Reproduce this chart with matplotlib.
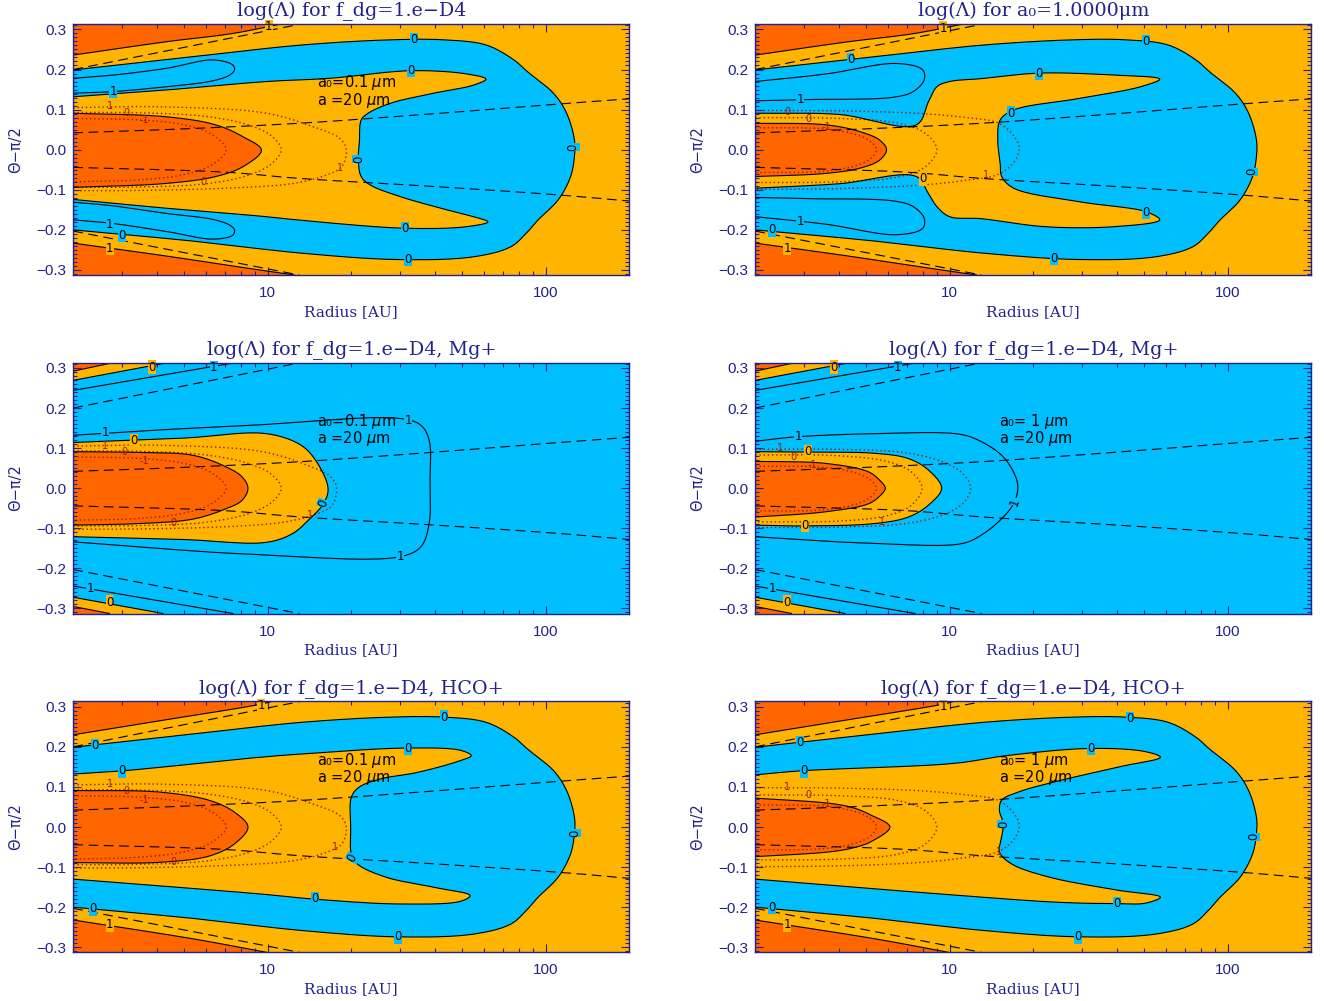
import numpy as np
import matplotlib.pyplot as plt
from matplotlib.ticker import FixedLocator, FixedFormatter, NullFormatter, MultipleLocator

plt.rcParams['lines.scale_dashes'] = False
plt.rcParams['mathtext.fontset'] = 'dejavusans'

NAVY = '#22228c'
DARK = '#ff6600'
AMBER = '#ffb400'
BLUE = '#00bfff'
DOTC = '#9c1a0a'
BG = {'a': AMBER, 'b': BLUE, 'd': DARK}

XMIN, XMAX = 2.0, 200.0
YMIN, YMAX = -0.3125, 0.3135

# ---- dashed reference lines (same in every panel)
DASH_UP_R = [2, 13.2]
DASH_UP_T = [0.200, 0.3135]
DASH_LO_R = [2, 13.0]
DASH_LO_T = [-0.203, -0.3125]
DASH_MU_R = [2, 5, 13, 40, 112, 200]
DASH_MU_T = [0.042, 0.052, 0.066, 0.090, 0.114, 0.127]
DASH_ML_R = [2, 7, 13, 40, 112, 200]
DASH_ML_T = [-0.044, -0.056, -0.0715, -0.092, -0.113, -0.128]

# ---- log(Lambda) = -1 corners, rows 1 and 3
TL1_R = [2, 4.3, 7.5, 11.2]
TL1_T = [0.236, 0.269, 0.290, 0.3135]
BL1_R = [2, 4.3, 7.5, 10.5, 12.5]
BL1_T = [-0.233, -0.265, -0.290, -0.305, -0.3125]
TL3_R = [2, 4.1, 9.4, 10.4]
TL3_T = [0.230, 0.265, 0.306, 0.3135]
BL3_R = [2, 5.4, 9.9]
BL3_T = [-0.232, -0.279, -0.3125]

# ---- outer edge of the log(Lambda) > 0 horseshoe
OUTER_R = [2, 5.4, 13.2, 27.6, 43.1, 61.2, 76.9, 85.9, 107, 119, 127, 127,
           123, 111, 94, 85, 75, 55.2, 29.5, 13.2, 5.4, 2]
OUTER_T = [0.199, 0.232, 0.261, 0.274, 0.274, 0.261, 0.224, 0.195, 0.140, 0.091, 0.024, -0.016,
           -0.067, -0.125, -0.175, -0.209, -0.242, -0.267, -0.274, -0.258, -0.228, -0.200]

# ---- inner edge (amber channel) per panel
INNER1_R = [2, 4.33, 9.9, 16.7, 32.8, 52, 61, 55, 39.6, 27.7, 23, 21.7, 21.4, 21.2, 21.7,
            23.4, 30, 42, 55, 62, 52, 31.5, 13.2, 9.9, 4.33, 2]
INNER1_T = [0.132, 0.149, 0.170, 0.178, 0.197, 0.189, 0.176, 0.161, 0.141, 0.116, 0.091, 0.074,
            0.024, -0.026, -0.067, -0.088, -0.117, -0.146, -0.167, -0.180, -0.192, -0.196,
            -0.176, -0.167, -0.146, -0.124]
INNER2_R = [2, 4, 7.6, 8.4, 9.0, 10, 12.9, 21.1, 39, 57, 48.6, 29.4, 17, 15.2, 14.9, 15.2,
            15.4, 17, 29.4, 51, 57, 39, 22, 13, 10, 9, 8.4, 7.6, 4, 2]
INNER2_T = [0.091, 0.088, 0.062, 0.120, 0.157, 0.170, 0.177, 0.191, 0.186, 0.176, 0.157, 0.128,
            0.099, 0.074, 0.024, -0.034, -0.067, -0.096, -0.130, -0.155, -0.175, -0.192, -0.192,
            -0.172, -0.167, -0.142, -0.110, -0.067, -0.085, -0.096]
INNER5_R = [2, 3.0, 9.4, 13.2, 32, 49.6, 54, 49.6, 34.5, 25.5, 21.3, 20, 19.9, 20, 21, 26.6,
            39.4, 53.5, 49.6, 30, 14.8, 9.4, 2]
INNER5_T = [0.132, 0.140, 0.174, 0.182, 0.197, 0.191, 0.178, 0.166, 0.136, 0.120, 0.099, 0.074,
            0.0, -0.067, -0.092, -0.125, -0.150, -0.171, -0.185, -0.192, -0.180, -0.167, -0.130]
INNER6_R = [2, 2.9, 10.5, 16, 32.2, 50.6, 57.3, 42, 25.3, 17.8, 15.4, 15.1, 15.6, 15.3, 15.1,
            16.6, 22.5, 39.7, 57.3, 50.6, 39.7, 25, 10.5, 2]
INNER6_T = [0.130, 0.140, 0.159, 0.178, 0.196, 0.188, 0.174, 0.152, 0.117, 0.088, 0.067, 0.042,
            0.007, -0.032, -0.062, -0.091, -0.124, -0.157, -0.175, -0.190, -0.191, -0.188,
            -0.170, -0.130]

# ---- log(Lambda) = 1 fingers inside the blue bands (top row)
FING1_R = [2, 2.78, 4.33, 6.37, 7.5, 7.6, 7.3, 6.37, 4.33, 2.78, 2]
FING1U_T = [0.178, 0.186, 0.203, 0.224, 0.211, 0.199, 0.186, 0.172, 0.157, 0.145, 0.141]
FING1L_T = [-0.175, -0.184, -0.204, -0.223, -0.213, -0.200, -0.188, -0.174, -0.159, -0.140, -0.131]
FING2_R = [2, 3.6, 6.46, 8.0, 8.1, 7.4, 6.3, 3.1, 2]
FING2U_T = [0.170, 0.189, 0.215, 0.199, 0.174, 0.145, 0.131, 0.125, 0.122]
FING2L_T = [-0.167, -0.186, -0.212, -0.196, -0.171, -0.142, -0.128, -0.122, -0.119]

# ---- log(Lambda) = -1 midplane cores
ELL1_R = [2, 4.33, 6.5, 8.17, 9.5, 8.17, 6.5, 4.33, 2]
ELL1_T = [0.091, 0.082, 0.062, 0.032, -0.001, -0.042, -0.067, -0.084, -0.094]
ELL2_R = [2, 3.6, 4.76, 5.6, 5.93, 5.6, 4.76, 3.6, 2]
ELL2_T = [0.066, 0.062, 0.045, 0.024, 0.0, -0.026, -0.046, -0.059, -0.067]
ELL3_R = [2, 3.5, 5.4, 7.1, 8.1, 8.5, 8.1, 7.1, 5.4, 3.5, 2]
ELL3_T = [0.091, 0.089, 0.082, 0.053, 0.028, 0.0, -0.030, -0.051, -0.077, -0.088, -0.092]
ELL4_R = [2, 3.56, 5.1, 5.6, 5.87, 5.6, 5.1, 3.56, 2]
ELL4_T = [0.067, 0.062, 0.041, 0.020, 0.0, -0.020, -0.039, -0.059, -0.072]
ELL5_R = [2, 4.1, 6.2, 7.6, 8.5, 7.6, 6.2, 4.1, 2]
ELL5_T = [0.091, 0.087, 0.066, 0.037, 0.0, -0.042, -0.072, -0.088, -0.089]
ELL6_R = [2, 3.7, 4.5, 5.2, 6.1, 5.2, 4.5, 3.7, 2]
ELL6_T = [0.072, 0.059, 0.048, 0.030, 0.0, -0.037, -0.052, -0.062, -0.074]

# ---- middle row (Mg+): log(Lambda) = 0 zone, log(Lambda) = 1 line, corner bands
AMB3_R = [2, 5, 9.9, 13.2, 15.0, 16.5, 15.9, 14.2, 12.3, 9.9, 5, 2]
AMB3_T = [0.114, 0.125, 0.136, 0.107, 0.066, -0.001, -0.038, -0.076, -0.113, -0.135, -0.128, -0.121]
AMB4_R = [2, 3.0, 5.4, 7.1, 8.4, 9.36, 8.4, 7.1, 5.4, 3.0, 2]
AMB4_T = [0.091, 0.090, 0.087, 0.074, 0.045, 0.0, -0.042, -0.072, -0.088, -0.094, -0.092]
ONE3_R = [2, 4, 8.8, 29.9, 35.6, 38.1, 38.4, 38.1, 35.6, 29.9, 8.8, 2]
ONE3_T = [0.132, 0.145, 0.157, 0.174, 0.157, 0.120, 0.020, -0.088, -0.146, -0.171, -0.165, -0.134]
ONE4_R = [2, 2.78, 5.4, 10.5, 12.3, 15.4, 17.2, 17.6, 17, 15.4, 13.0, 11.1, 5.4, 2]
ONE4_T = [0.117, 0.128, 0.136, 0.136, 0.124, 0.082, 0.032, 0.0, -0.038, -0.076, -0.117, -0.138,
          -0.138, -0.121]
TL2D_R, TL2D_T = [2, 2.8], [0.292, 0.3135]
TL2Z_R, TL2Z_T = [2, 4.4], [0.269, 0.3135]
TL2O_R, TL2O_T = [2, 7.7], [0.244, 0.3135]
BL2D_R, BL2D_T = [2, 2.7], [-0.295, -0.3125]
BL2Z_R, BL2Z_T = [2, 4.2], [-0.272, -0.3125]
BL2O_R, BL2O_T = [2, 7.5], [-0.244, -0.3125]

# ---- dotted contours (second quantity), 1 / 0 / -1
DOTL_OUT_R = [2, 4.1, 9.9, 14.6, 18.2, 19.2, 18.5, 16.3, 12.4, 7.1, 3.1, 2]
DOTL_OUT_T = [0.105, 0.107, 0.091, 0.057, 0.028, 0.0, -0.042, -0.063, -0.084, -0.096, -0.102, -0.102]
DOT3_OUT_R = [2, 4.1, 9.6, 13.9, 16.9, 17.7, 17.1, 15.2, 11.6, 7.1, 3.1, 2]
DOTL_MID_R = [2, 3.5, 6, 8.5, 10.3, 11.2, 10.3, 8.5, 6, 3.5, 2]
DOTL_MID_T = [0.093, 0.092, 0.083, 0.062, 0.035, 0.0, -0.036, -0.064, -0.085, -0.093, -0.094]
DOTL_IN_R = [2, 3.5, 5, 6.3, 7.1, 6.3, 5, 3.5, 2]
DOTL_IN_T = [0.078, 0.074, 0.062, 0.038, 0.0, -0.038, -0.062, -0.075, -0.080]
DOTR_OUT_R = [2, 4, 8, 11.5, 14.9, 17, 17.8, 17, 14.9, 11.5, 8, 4, 2]
DOTR_OUT_T = [0.098, 0.097, 0.090, 0.080, 0.067, 0.035, 0.003, -0.032, -0.062, -0.076, -0.088,
              -0.097, -0.099]
DOTR_MID_R = [2, 4, 6.5, 8.2, 9.0, 8.2, 6.5, 4, 2]
DOTR_MID_T = [0.080, 0.078, 0.066, 0.040, 0.0, -0.042, -0.068, -0.080, -0.082]
DOTR_IN_R = [2, 3.5, 4.6, 5.2, 5.46, 5.2, 4.6, 3.5, 2]
DOTR_IN_T = [0.055, 0.052, 0.038, 0.020, 0.0, -0.022, -0.040, -0.054, -0.057]
DOT4_OUT_R = [2, 4, 7, 9.5, 11.2, 11.9, 11.2, 9.5, 7, 4, 2]
DOT4_OUT_T = [0.097, 0.097, 0.088, 0.065, 0.035, 0.0, -0.037, -0.066, -0.088, -0.097, -0.098]
DOT4_MID_R = [2, 4, 6, 7.3, 7.96, 7.3, 6, 4, 2]
DOT4_MID_T = [0.083, 0.081, 0.066, 0.040, 0.0, -0.042, -0.068, -0.082, -0.084]

# ---- solid-contour labels: radius, angle, text, rotation, background
LAB1 = [(33.6, 0.275, '0', 0, 'b'), (32.8, 0.197, '0', 0, 'b'), (21.2, -0.024, '0', 90, 'b'),
        (125.5, 0.007, '0', 90, 'b'), (31.2, -0.196, '0', 0, 'b'), (32, -0.273, '0', 0, 'b'),
        (2.78, 0.145, '1', 0, 'b'), (2.7, -0.186, '1', 0, 'b'), (3.0, -0.213, '0', 0, 'b'),
        (2.7, -0.246, '1', 0, 'a'), (10.1, 0.307, '1', 0, 'a')]
LAB2 = [(4.4, 0.224, '0', 0, 'b'), (2.9, 0.126, '1', 0, 'b'), (2.9, -0.180, '1', 0, 'b'),
        (2.3, -0.200, '0', 0, 'b'), (2.6, -0.246, '1', 0, 'a'), (9.5, 0.303, '1', 0, 'a'),
        (8.0, -0.073, '0', 0, 'a'), (51, 0.269, '0', 0, 'b'), (21, 0.190, '0', 0, 'b'),
        (16.6, 0.091, '0', 0, 'b'), (122, -0.055, '0', 90, 'b'), (51, -0.156, '0', 0, 'b'),
        (23.7, -0.271, '0', 0, 'b')]
LAB3 = [(3.83, 0.302, '0', 0, 'a'), (6.4, 0.300, '1', 0, 'b'), (2.6, 0.138, '1', 0, 'b'),
        (3.3, 0.119, '0', 0, 'a'), (15.9, -0.038, '0', 70, 'b'), (32, 0.168, '1', 0, 'b'),
        (30, -0.171, '1', 0, 'b'), (2.3, -0.250, '1', 0, 'b'), (2.7, -0.284, '0', 0, 'a')]
LAB4 = [(3.83, 0.302, '0', 0, 'a'), (6.5, 0.300, '1', 0, 'b'), (2.86, 0.128, '1', 0, 'b'),
        (3.1, 0.091, '0', 0, 'a'), (3.02, -0.093, '0', 0, 'a'), (17.2, -0.034, '1', 70, 'b'),
        (2.3, -0.250, '1', 0, 'b'), (2.6, -0.284, '0', 0, 'a')]
LAB5 = [(9.5, 0.303, '1', 0, 'a'), (2.4, 0.203, '0', 0, 'b'), (3.0, 0.140, '0', 0, 'b'),
        (14.8, -0.178, '0', 0, 'b'), (2.36, -0.204, '0', 0, 'b'), (2.7, -0.244, '1', 0, 'a'),
        (43, 0.274, '0', 0, 'b'), (32, 0.197, '0', 0, 'b'), (127, -0.016, '0', 90, 'b'),
        (20.2, -0.077, '0', 60, 'b'), (29.5, -0.274, '0', 0, 'b')]
LAB6 = [(9.5, 0.300, '1', 0, 'a'), (2.9, 0.210, '0', 0, 'b'), (3.0, 0.140, '0', 0, 'b'),
        (44.4, 0.271, '0', 0, 'b'), (32.2, 0.196, '0', 0, 'b'), (15.6, 0.007, '0', 90, 'b'),
        (124, -0.024, '0', 90, 'b'), (40, -0.191, '0', 0, 'b'), (29, -0.274, '0', 0, 'b'),
        (2.3, -0.200, '0', 0, 'b'), (2.6, -0.244, '1', 0, 'a')]

# ---- dotted-contour labels: radius, angle, text
RED1 = [(2.7, 0.108, '1'), (3.1, 0.091, '0'), (3.6, 0.073, '-1'), (5.9, -0.080, '0'),
        (18.2, -0.046, '1')]
RED2 = [(2.6, 0.093, '0'), (3.1, 0.077, '0'), (3.6, 0.057, '-1'), (13.5, -0.063, '1')]
RED3 = [(2.6, 0.106, '1'), (3.05, 0.090, '0'), (3.6, 0.068, '-1'), (4.6, -0.088, '0'),
        (14.2, -0.067, '1')]
RED4 = [(2.45, 0.100, '1'), (2.75, 0.079, '0'), (3.2, 0.058, '-1'), (5.7, -0.084, '1')]
RED5 = [(2.7, 0.107, '1'), (3.1, 0.090, '0'), (3.6, 0.068, '-1'), (4.6, -0.088, '0'),
        (17.5, -0.050, '1')]
RED6 = [(2.6, 0.099, '1'), (3.1, 0.081, '0'), (3.6, 0.058, '-1'), (15.1, -0.062, '1')]

TITLES = ['log(Λ) for f_dg=1.e−D4', 'log(Λ) for a₀=1.0000μm',
          'log(Λ) for f_dg=1.e−D4, Mg+', 'log(Λ) for f_dg=1.e−D4, Mg+',
          'log(Λ) for f_dg=1.e−D4, HCO+', 'log(Λ) for f_dg=1.e−D4, HCO+']
NOTES = [('a₀=0.1 $\\mu$m', 'a =20 $\\mu$m'), None,
         ('a₀=0.1 $\\mu$m', 'a =20 $\\mu$m'), ('a₀= 1 $\\mu$m', 'a =20 $\\mu$m'),
         ('a₀=0.1 $\\mu$m', 'a =20 $\\mu$m'), ('a₀= 1 $\\mu$m', 'a =20 $\\mu$m')]


def smooth(r, t, n=14):
    # centripetal Catmull-Rom through the points, worked out in log-R / theta screen units
    P = np.column_stack([np.log10(r) * 278.0, np.asarray(t, float) * 401.0])
    P = np.vstack([2 * P[0] - P[1], P, 2 * P[-1] - P[-2]])
    out = []
    for i in range(1, len(P) - 2):
        p0, p1, p2, p3 = P[i - 1], P[i], P[i + 1], P[i + 2]
        t0 = 0.0
        t1 = t0 + np.linalg.norm(p1 - p0) ** 0.5
        t2 = t1 + np.linalg.norm(p2 - p1) ** 0.5
        t3 = t2 + np.linalg.norm(p3 - p2) ** 0.5
        s = np.linspace(t1, t2, n, endpoint=False)[:, None]
        a1 = (t1 - s) / (t1 - t0) * p0 + (s - t0) / (t1 - t0) * p1
        a2 = (t2 - s) / (t2 - t1) * p1 + (s - t1) / (t2 - t1) * p2
        a3 = (t3 - s) / (t3 - t2) * p2 + (s - t2) / (t3 - t2) * p3
        b1 = (t2 - s) / (t2 - t0) * a1 + (s - t0) / (t2 - t0) * a2
        b2 = (t3 - s) / (t3 - t1) * a2 + (s - t1) / (t3 - t1) * a3
        out.append((t2 - s) / (t2 - t1) * b1 + (s - t1) / (t2 - t1) * b2)
    out.append(P[-2][None, :])
    out = np.vstack(out)
    return 10 ** (out[:, 0] / 278.0), out[:, 1] / 401.0


def line(ax, r, t, **kw):
    x, y = smooth(r, t)
    kw.setdefault('color', 'k')
    kw.setdefault('lw', 0.8)
    ax.plot(x, y, zorder=kw.pop('zorder', 3), **kw)


def patch(ax, r, t, color):
    x, y = smooth(r, t)
    ax.fill(x, y, color=color, lw=0, zorder=1)


def cap(ax, r, t, color, upper=True):
    x, y = smooth(r, t)
    edge = YMAX + 0.05 if upper else YMIN - 0.05
    ax.fill(np.r_[x, x[-1], x[0]], np.r_[y, edge, edge], color=color, lw=0, zorder=1)


def style_axes(ax):
    ax.set_xscale('log')
    ax.set_xlim(XMIN, XMAX)
    ax.set_ylim(YMIN, YMAX)
    ax.xaxis.set_major_locator(FixedLocator([10, 100]))
    ax.xaxis.set_major_formatter(FixedFormatter(['10', '100']))
    ax.xaxis.set_minor_locator(FixedLocator([2, 3, 4, 5, 6, 7, 8, 9, 20, 30, 40, 50, 60, 70, 80, 90, 200]))
    ax.xaxis.set_minor_formatter(NullFormatter())
    yt = [-0.3, -0.2, -0.1, 0.0, 0.1, 0.2, 0.3]
    ax.yaxis.set_major_locator(FixedLocator(yt))
    ax.yaxis.set_major_formatter(FixedFormatter([f'{v:.1f}'.replace('-', '−') for v in yt]))
    ax.yaxis.set_minor_locator(MultipleLocator(0.01))
    ax.tick_params(which='both', direction='in', top=True, right=True, color=NAVY,
                   labelcolor=NAVY, labelsize=11, width=0.8)
    ax.tick_params(which='major', length=6)
    ax.tick_params(which='minor', length=3)
    ax.tick_params(axis='x', pad=8)
    ax.tick_params(axis='y', pad=5)
    for lab in ax.get_xticklabels() + ax.get_yticklabels():
        lab.set_family('Liberation Sans')
    for s in ax.spines.values():
        s.set_color(NAVY)
        s.set_linewidth(1.0)
        s.set_zorder(6)


def horseshoe(ax, inner, ell, tl, bl, fingers):
    ax.set_facecolor(AMBER)
    patch(ax, OUTER_R, OUTER_T, BLUE)
    patch(ax, *inner, AMBER)
    patch(ax, *ell, DARK)
    cap(ax, *tl, DARK, True)
    cap(ax, *bl, DARK, False)
    for r, t in [(OUTER_R, OUTER_T), inner, ell, tl, bl] + fingers:
        line(ax, r, t)


def middle(ax, amb, ell, one):
    ax.set_facecolor(BLUE)
    cap(ax, TL2Z_R, TL2Z_T, AMBER, True)
    cap(ax, TL2D_R, TL2D_T, DARK, True)
    cap(ax, BL2Z_R, BL2Z_T, AMBER, False)
    cap(ax, BL2D_R, BL2D_T, DARK, False)
    patch(ax, *amb, AMBER)
    patch(ax, *ell, DARK)
    for r, t in [(TL2D_R, TL2D_T), (TL2Z_R, TL2Z_T), (TL2O_R, TL2O_T),
                 (BL2D_R, BL2D_T), (BL2Z_R, BL2Z_T), (BL2O_R, BL2O_T), amb, ell, one]:
        line(ax, r, t)


W, H = 1324, 1001
fig = plt.figure(figsize=(W / 100, H / 100), dpi=100)
LEFTS = [73.3, 755.3]
TOPS = [24, 362.5, 701.3]
AX_W, AX_H = 556, 251

dots_left = [(DOTL_OUT_R, DOTL_OUT_T), (DOTL_MID_R, DOTL_MID_T), (DOTL_IN_R, DOTL_IN_T)]
dots_right = [(DOTR_OUT_R, DOTR_OUT_T), (DOTR_MID_R, DOTR_MID_T), (DOTR_IN_R, DOTR_IN_T)]
dots_mg_left = [(DOT3_OUT_R, DOTL_OUT_T), (DOTL_MID_R, DOTL_MID_T), (DOTL_IN_R, DOTL_IN_T)]
dots_mg_right = [(DOT4_OUT_R, DOT4_OUT_T), (DOT4_MID_R, DOT4_MID_T), (DOTR_IN_R, DOTR_IN_T)]

panels = [
    (0, 0, dots_left, LAB1, RED1),
    (0, 1, dots_right, LAB2, RED2),
    (1, 0, dots_mg_left, LAB3, RED3),
    (1, 1, dots_mg_right, LAB4, RED4),
    (2, 0, dots_left, LAB5, RED5),
    (2, 1, dots_right, LAB6, RED6),
]

for k, (row, col, dots, labels, reds) in enumerate(panels):
    left, top = LEFTS[col], TOPS[row]
    ax = fig.add_axes([left / W, 1 - (top + AX_H) / H, AX_W / W, AX_H / H])
    style_axes(ax)

    if k == 0:
        horseshoe(ax, (INNER1_R, INNER1_T), (ELL1_R, ELL1_T), (TL1_R, TL1_T), (BL1_R, BL1_T),
                  [(FING1_R, FING1U_T), (FING1_R, FING1L_T)])
    elif k == 1:
        horseshoe(ax, (INNER2_R, INNER2_T), (ELL2_R, ELL2_T), (TL1_R, TL1_T), (BL1_R, BL1_T),
                  [(FING2_R, FING2U_T), (FING2_R, FING2L_T)])
    elif k == 2:
        middle(ax, (AMB3_R, AMB3_T), (ELL3_R, ELL3_T), (ONE3_R, ONE3_T))
    elif k == 3:
        middle(ax, (AMB4_R, AMB4_T), (ELL4_R, ELL4_T), (ONE4_R, ONE4_T))
    elif k == 4:
        horseshoe(ax, (INNER5_R, INNER5_T), (ELL5_R, ELL5_T), (TL3_R, TL3_T), (BL3_R, BL3_T), [])
    else:
        horseshoe(ax, (INNER6_R, INNER6_T), (ELL6_R, ELL6_T), (TL3_R, TL3_T), (BL3_R, BL3_T), [])

    for r, t in dots:
        line(ax, r, t, color=DOTC, lw=1.0, ls=(0, (1, 2.0)), zorder=2)
    for r, t in [(DASH_UP_R, DASH_UP_T), (DASH_LO_R, DASH_LO_T),
                 (DASH_MU_R, DASH_MU_T), (DASH_ML_R, DASH_ML_T)]:
        line(ax, r, t, lw=0.8, ls=(0, (7, 4)), zorder=4)

    for r, t, s, rot, bg in labels:
        ax.text(r, t, s, fontsize=8.5, rotation=rot, ha='center', va='center', color='k',
                family='DejaVu Sans', zorder=5,
                bbox=dict(boxstyle='square,pad=0.02', fc=BG[bg], ec='none'))
    for r, t, s in reds:
        ax.text(r, t, s, fontsize=7, ha='center', va='center', color=DOTC,
                family='DejaVu Sans', zorder=5)

    note = NOTES[k]
    if note:
        ax.text(0.438, 0.765, note[0], transform=ax.transAxes, fontsize=10.5, ha='left',
                va='center', family='DejaVu Sans', zorder=5)
        ax.text(0.438, 0.697, note[1], transform=ax.transAxes, fontsize=10.5, ha='left',
                va='center', family='DejaVu Sans', zorder=5)

    ax.set_title(TITLES[k], fontsize=13.8, color=NAVY, family='DejaVu Serif', pad=5.5)
    ax.text(0.5, -0.163, 'Radius [AU]', transform=ax.transAxes, ha='center', va='baseline',
            fontsize=11, color=NAVY, family='DejaVu Serif')
    fig.text((left - 58) / W, 1 - (top + AX_H / 2) / H, 'Θ−π/2', rotation=90, ha='center',
             va='center', fontsize=10.5, color=NAVY, family='DejaVu Sans')

fig.savefig('out.png', dpi=100)
